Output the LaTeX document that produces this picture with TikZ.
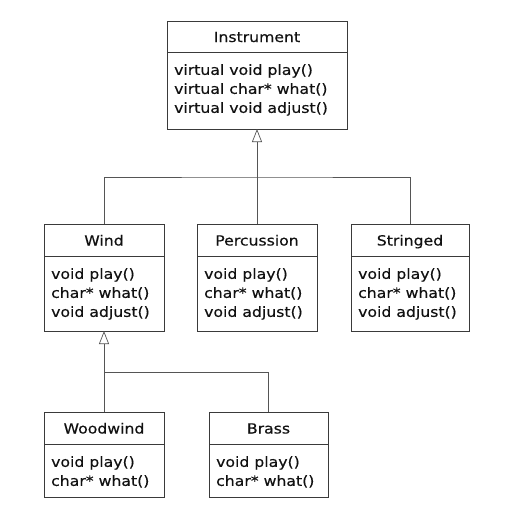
\documentclass[tikz,border=0pt]{standalone}
\usepackage{fontspec}
\setmainfont{DejaVu Sans}[FakeStretch=1.12, FakeBold=0.4]
\usetikzlibrary{arrows.meta}
\definecolor{boxc}{HTML}{3A3A3A}
\definecolor{linec}{HTML}{555555}
\definecolor{txtc}{HTML}{111111}
\newcommand{\umlclass}[8]{%
  \node[ttl, minimum width=#4pt, minimum height=#5pt] (#1T) at (#2,#3) {#7};
  \node[box, anchor=north west, minimum width=#4pt, minimum height=#6pt] (#1B) at (#1T.south west) {};
  \node[txt] (#1X) at ([shift={(7,12)}]#1B.north west) {#8};
}
\begin{document}
\begin{tikzpicture}[x=1pt,y=-1pt,
  box/.style={draw=boxc, line width=0.8pt, inner sep=0pt, outer sep=0pt},
  ttl/.style={box, anchor=north west, text=txtc, text height=12pt, text depth=1pt, font=\fontsize{14}{19}\selectfont},
  txt/.style={anchor=north west, inner sep=0pt, align=left, text=txtc, font=\fontsize{14}{19}\selectfont},
  conn/.style={draw=linec, line width=0.7pt},
  inh/.style={conn, -{Triangle[open, length=13pt, width=10pt, fill=white]}}
]
\fill[white] (0,0) rectangle (515,509);
\useasboundingbox (0,0) rectangle (515,509);

\umlclass{inst}{167}{21}{180}{31}{77}{Instrument}{virtual void play()\\virtual char* what()\\virtual void adjust()}
\umlclass{wind}{44}{224}{120}{32}{75}{Wind}{void play()\\char* what()\\void adjust()}
\umlclass{perc}{197}{224}{120}{32}{75}{Percussion}{void play()\\char* what()\\void adjust()}
\umlclass{str}{351}{224}{118}{32}{75}{Stringed}{void play()\\char* what()\\void adjust()}
\umlclass{wood}{44}{412}{120}{32}{53}{Woodwind}{void play()\\char* what()}
\umlclass{brass}{209}{412}{119}{32}{53}{Brass}{void play()\\char* what()}

\coordinate (j1) at (257,177);
\draw[inh] (j1) -- (instB.south);
\draw[conn] (windT.north) |- (j1) -| (strT.north);
\draw[conn] (percT.north) -- (j1);

\coordinate (j2) at (104,372);
\draw[inh] (j2) -- (windB.south);
\draw[conn] (woodT.north) -- (j2) -| (brassT.north);
\end{tikzpicture}
\end{document}
